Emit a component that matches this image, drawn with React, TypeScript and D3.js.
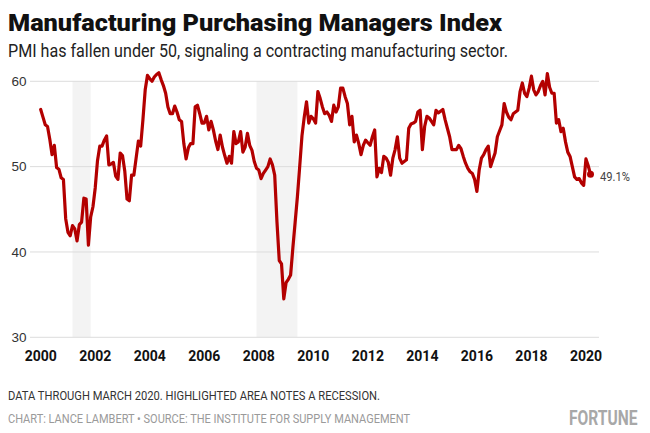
import React from "react";
import * as d3 from "d3";

// Monthly ISM Manufacturing PMI, Jan 2000 – Mar 2020
const pmi2000 = [56.7, 55.8, 54.9, 54.7, 53.2, 51.4, 52.5, 49.9, 49.7, 48.7, 48.5, 43.9];
const pmi2001 = [42.3, 41.9, 43.1, 42.7, 41.3, 43.2, 43.5, 46.3, 46.2, 40.8, 44.1, 45.3];
const pmi2002 = [47.5, 50.7, 52.4, 52.4, 53.1, 53.6, 50.2, 50.3, 50.5, 48.9, 48.5, 51.6];
const pmi2003 = [51.3, 49.5, 46.2, 46.0, 49.0, 49.0, 51.0, 53.0, 52.4, 55.5, 59.0, 60.7];
const pmi2004 = [60.3, 60.0, 60.5, 60.8, 61.0, 60.2, 59.5, 58.6, 57.0, 56.2, 56.2, 57.1];
const pmi2005 = [56.4, 55.5, 55.3, 52.7, 50.9, 52.2, 52.7, 52.7, 57.0, 57.2, 56.2, 55.1];
const pmi2006 = [55.1, 55.9, 54.3, 55.3, 54.3, 53.0, 52.0, 53.7, 52.3, 51.3, 50.4, 51.2];
const pmi2007 = [50.4, 54.1, 52.7, 52.9, 54.1, 51.7, 52.3, 53.9, 52.5, 51.9, 50.6, 49.8];
const pmi2008 = [49.6, 48.6, 49.2, 49.6, 50.0, 50.9, 50.2, 49.0, 43.5, 39.0, 38.6, 34.5];
const pmi2009 = [36.4, 36.8, 37.3, 40.5, 43.5, 46.5, 50.0, 53.6, 55.8, 57.6, 55.1, 55.9];
const pmi2010 = [55.6, 55.1, 58.8, 58.0, 57.0, 56.2, 56.4, 56.0, 55.3, 57.2, 56.4, 57.0];
const pmi2011 = [59.2, 59.2, 58.2, 57.4, 54.9, 55.9, 52.9, 53.7, 52.7, 51.4, 52.5, 53.1];
const pmi2012 = [52.8, 52.5, 53.5, 54.3, 48.8, 49.8, 49.3, 51.2, 51.0, 50.5, 49.0, 51.0];
const pmi2013 = [52.0, 53.5, 51.0, 50.4, 50.6, 50.8, 54.5, 55.0, 55.1, 55.3, 56.4, 56.6];
const pmi2014 = [52.0, 54.7, 55.9, 55.7, 55.3, 54.9, 56.6, 56.3, 56.5, 56.7, 55.5, 54.5];
const pmi2015 = [53.5, 52.0, 52.0, 52.0, 52.5, 52.1, 51.2, 50.4, 49.8, 49.4, 49.2, 48.5];
const pmi2016 = [47.1, 49.6, 51.0, 51.4, 52.0, 52.4, 50.0, 50.8, 51.6, 53.5, 54.2, 54.9];
const pmi2017 = [57.4, 56.4, 55.8, 55.5, 56.2, 56.4, 56.6, 58.8, 59.8, 58.6, 58.2, 59.2];
const pmi2018 = [60.6, 59.0, 58.4, 58.8, 59.5, 60.0, 58.4, 60.9, 59.3, 58.6, 58.6, 55.1];
const pmi2019 = [55.5, 54.1, 54.5, 52.9, 51.7, 51.2, 50.0, 48.8, 48.5, 48.6, 48.1, 47.8];
const pmi2020 = [50.9, 50.1, 49.1];

const pmi: number[] = [
  ...pmi2000, ...pmi2001, ...pmi2002, ...pmi2003, ...pmi2004, ...pmi2005, ...pmi2006,
  ...pmi2007, ...pmi2008, ...pmi2009, ...pmi2010, ...pmi2011, ...pmi2012, ...pmi2013,
  ...pmi2014, ...pmi2015, ...pmi2016, ...pmi2017, ...pmi2018, ...pmi2019, ...pmi2020,
];
const startYear = 2000;

// Recessions (start, end) as fractional years
const recessionStarts = [2001 + 2 / 12, 2007 + 11 / 12];
const recessionEnds = [2001 + 10 / 12, 2009 + 5 / 12];

const yTicks = [30, 40, 50, 60];
const xTicks = [2000, 2002, 2004, 2006, 2008, 2010, 2012, 2014, 2016, 2018, 2020];

const title = "Manufacturing Purchasing Managers Index";
const subtitle = "PMI has fallen under 50, signaling a contracting manufacturing sector.";
const note = "DATA THROUGH MARCH 2020. HIGHLIGHTED AREA NOTES A RECESSION.";
const credit = "CHART: LANCE LAMBERT \u2022 SOURCE: THE INSTITUTE FOR SUPPLY MANAGEMENT";
const brand = "FORTUNE";

const W = 650;
const H = 433;
const RED = "#b30000";

export default function App() {
  const dateOf = (i: number) => startYear + i / 12;
  const x = d3
    .scaleLinear()
    .domain([startYear, dateOf(pmi.length - 1)])
    .range([40.7, 590.5]);
  const y = d3.scaleLinear().domain([30, 60]).range([337.3, 81.3]);

  const line = d3
    .line<number>()
    .x((_, i) => x(dateOf(i)))
    .y((d) => y(d));

  const lastI = pmi.length - 1;
  const lastV = pmi[lastI];
  const gridX0 = 30;
  const gridX1 = 599;

  return (
    <svg
      width={W}
      height={H}
      viewBox={`0 0 ${W} ${H}`}
      style={{ position: "absolute", left: 0, top: 0, background: "#fff" }}
    >
      <rect x={0} y={0} width={W} height={H} fill="#fff" />
      <text
        x={8}
        y={31}
        fontFamily="Roboto, 'Open Sans', sans-serif"
        fontWeight={900}
        fontSize={23}
        fill="#111"
        textLength={494}
        lengthAdjust="spacingAndGlyphs"
      >
        {title}
      </text>
      <text
        x={8}
        y={57}
        fontFamily="Roboto, sans-serif"
        fontSize={17.5}
        fill="#222"
        textLength={500}
        lengthAdjust="spacingAndGlyphs"
      >
        {subtitle}
      </text>

      {recessionStarts.map((s, k) => (
        <rect
          key={"r" + k}
          x={x(s)}
          y={y(60)}
          width={x(recessionEnds[k]) - x(s)}
          height={y(30) - y(60)}
          fill="#f3f3f3"
        />
      ))}

      {yTicks.map((t) => (
        <g key={"y" + t}>
          <line x1={gridX0} x2={gridX1} y1={y(t)} y2={y(t)} stroke="#dcdcdc" strokeWidth={1} />
          <text
            x={26.5}
            y={y(t)}
            dy="0.35em"
            textAnchor="end"
            fontFamily="'Liberation Sans', Arial, sans-serif"
            fontSize={13.5}
            fill="#333"
          >
            {t}
          </text>
        </g>
      ))}

      {xTicks.map((t) => (
        <text
          key={"x" + t}
          x={x(t)}
          y={361}
          textAnchor="middle"
          fontFamily="Roboto, sans-serif"
          fontWeight={700}
          fontSize={14}
          fill="#111"
        >
          {t}
        </text>
      ))}

      <path
        d={line(pmi) || ""}
        fill="none"
        stroke={RED}
        strokeWidth={3.2}
        strokeLinejoin="round"
        strokeLinecap="round"
      />
      <circle cx={x(dateOf(lastI))} cy={y(lastV)} r={3.5} fill={RED} />
      <text
        x={600}
        y={y(lastV) + 7}
        fontFamily="Roboto, sans-serif"
        fontSize={13}
        fill="#444"
        textLength={30}
        lengthAdjust="spacingAndGlyphs"
      >
        {lastV.toFixed(1) + "%"}
      </text>

      <text
        x={8}
        y={400}
        fontFamily="Roboto, sans-serif"
        fontSize={12.5}
        fill="#333"
        textLength={372}
        lengthAdjust="spacingAndGlyphs"
      >
        {note}
      </text>
      <text
        x={8}
        y={423}
        fontFamily="Roboto, sans-serif"
        fontSize={12.5}
        fill="#9a9a9a"
        textLength={402}
        lengthAdjust="spacingAndGlyphs"
      >
        {credit}
      </text>
      <g transform="translate(569,425) scale(0.78,1)">
        <text
          x={0}
          y={0}
          fontFamily="Roboto, sans-serif"
          fontWeight={700}
          fontSize={20}
          fill="#a8a8a8"
        >
          {brand}
        </text>
      </g>
    </svg>
  );
}
